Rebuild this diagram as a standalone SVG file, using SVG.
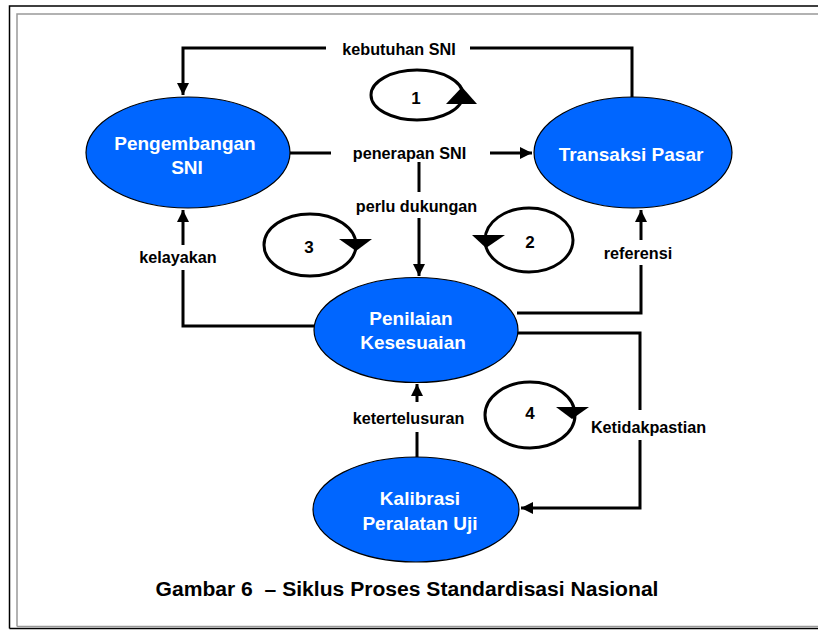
<svg xmlns="http://www.w3.org/2000/svg" width="818" height="630" viewBox="0 0 818 630">
<defs>
<style>
.node ellipse{fill:#0066ff;stroke:#000;stroke-width:1.2}
.nt{font-family:"Liberation Sans",Arial,sans-serif;font-weight:bold;font-size:19px;fill:#fff;text-anchor:middle}
.lbl{font-family:"Liberation Sans",Arial,sans-serif;font-weight:bold;font-size:16.2px;fill:#000;text-anchor:middle}
.num{font-family:"Liberation Sans",Arial,sans-serif;font-weight:bold;font-size:17px;fill:#000;text-anchor:middle}
.cap{font-family:"Liberation Sans",Arial,sans-serif;font-weight:bold;font-size:21.1px;fill:#000;text-anchor:middle}
.c{fill:none;stroke:#000;stroke-width:3}
.loop{fill:none;stroke:#000;stroke-width:3}
.ah{fill:#000}
</style>
<marker id="arr" viewBox="0 0 10 10" refX="10" refY="5" markerWidth="4" markerHeight="4" orient="auto" markerUnits="strokeWidth">
<path d="M0,0 L10,5 L0,10 z" fill="#000"/>
</marker>
</defs>
<rect x="0" y="0" width="818" height="630" fill="#fff"/>
<g id="frame">
<path d="M9.5,628.5 V6 H830" fill="none" stroke="#000" stroke-width="1.5"/>
<path d="M9.5,628.5 H830" fill="none" stroke="#000" stroke-width="1.5"/>
<path d="M17,626.5 V14 H830" fill="none" stroke="#999" stroke-width="1.5"/>
<path d="M17,626.5 H830" fill="none" stroke="#999" stroke-width="1.5"/>
</g>
<g id="connectors">
<path class="c" d="M632,97 V48 H470"/>
<path class="c" d="M326,48 H183 V95" marker-end="url(#arr)"/>
<path class="c" d="M290,153 H331"/>
<path class="c" d="M490,153 H532" marker-end="url(#arr)"/>
<path class="c" d="M419,162 V192"/>
<path class="c" d="M419,218 V276" marker-end="url(#arr)"/>
<path class="c" d="M314,326 H183 V270"/>
<path class="c" d="M183,245 V210" marker-end="url(#arr)"/>
<path class="c" d="M517,313 H641 V265"/>
<path class="c" d="M641,240 V210" marker-end="url(#arr)"/>
<path class="c" d="M516,333 H640 V410"/>
<path class="c" d="M640,440 V508 H521" marker-end="url(#arr)"/>
<path class="c" d="M417,457 V432"/>
<path class="c" d="M417,402 V384" marker-end="url(#arr)"/>
</g>
<g id="labels">
<text class="lbl" x="399" y="55">kebutuhan SNI</text>
<text class="lbl" x="409.5" y="159">penerapan SNI</text>
<text class="lbl" x="416.5" y="212">perlu dukungan</text>
<text class="lbl" x="178" y="263">kelayakan</text>
<text class="lbl" x="638" y="259">referensi</text>
<text class="lbl" x="408.5" y="424">ketertelusuran</text>
<text class="lbl" x="648.5" y="433">Ketidakpastian</text>
</g>
<g id="loop1">
<ellipse class="loop" cx="417" cy="95" rx="46" ry="25"/>
<polygon class="ah" points="446,104 477,104 462,87"/>
<text class="num" x="416" y="104">1</text>
</g>
<g id="loop2">
<ellipse class="loop" cx="529" cy="240" rx="44" ry="32"/>
<polygon class="ah" points="472,235 505,235 486,248"/>
<text class="num" x="530" y="248">2</text>
</g>
<g id="loop3">
<ellipse class="loop" cx="310" cy="245" rx="46" ry="31"/>
<polygon class="ah" points="339,239 372,239 356,251"/>
<text class="num" x="309" y="253">3</text>
</g>
<g id="loop4">
<ellipse class="loop" cx="530" cy="415" rx="45" ry="33"/>
<polygon class="ah" points="556,407 589,407 572,419"/>
<text class="num" x="530" y="419">4</text>
</g>
<g id="pengembangan" class="node">
<ellipse cx="188" cy="152.5" rx="102" ry="55.5"/>
<text class="nt" x="185" y="150">Pengembangan</text>
<text class="nt" x="187" y="174">SNI</text>
</g>
<g id="transaksi" class="node">
<ellipse cx="633" cy="152.5" rx="99" ry="55.5"/>
<text class="nt" x="631" y="161">Transaksi Pasar</text>
</g>
<g id="penilaian" class="node">
<ellipse cx="416" cy="330" rx="102" ry="52.5"/>
<text class="nt" x="411" y="325">Penilaian</text>
<text class="nt" x="413" y="349">Kesesuaian</text>
</g>
<g id="kalibrasi" class="node">
<ellipse cx="416" cy="509.5" rx="103" ry="52.5"/>
<text class="nt" x="420" y="505">Kalibrasi</text>
<text class="nt" x="420" y="530">Peralatan Uji</text>
</g>
<text class="cap" x="407" y="596" xml:space="preserve">Gambar 6  – Siklus Proses Standardisasi Nasional</text>
</svg>
